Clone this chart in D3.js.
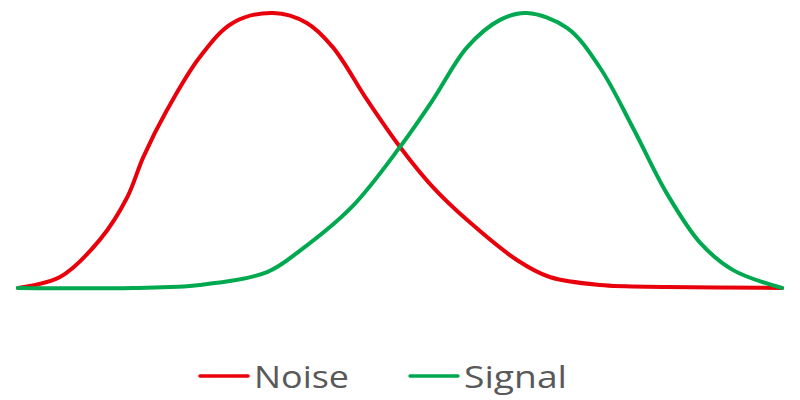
<!DOCTYPE html>
<html>
<head>
<meta charset="utf-8">
<script src="https://cdn.jsdelivr.net/npm/d3@7"></script>
<style>
  body { margin: 0; background: #fff; }
</style>
</head>
<body>
<div id="container"></div>
<script>
const width = 800;
const height = 400;

const seriesNames = ["Noise", "Signal"];
const seriesColors = ["#e8000b", "#00a84f"];

// x position (0-100) and relative height (0-100)
const noiseX = [0, 5.5, 10.7, 14.3, 16.4, 19.5, 23.8, 28.1, 33.4, 37.8, 41.2, 45.7, 50, 54.3, 58.8, 65.3, 69.6, 76.2, 84.9, 100];
const noiseY = [0, 4, 17.5, 33, 47.6, 64.7, 84, 96.4, 100, 96.4, 87.6, 68.4, 51.3, 36.7, 24.7, 10.2, 4, 1.1, 0.4, 0];

const signalX = [0, 15, 23.8, 32.6, 37, 43.7, 50, 54.3, 58.8, 63.1, 66.6, 71.9, 76.2, 80.5, 84.9, 89.3, 93.6, 100];
const signalY = [0, 0, 1.1, 5.8, 13.8, 29.5, 51.3, 68.4, 87.6, 97.5, 100, 94.5, 80, 58.2, 34.5, 16.4, 6.5, 0];

const series = [
  noiseX.map((x, i) => [x, noiseY[i]]),
  signalX.map((x, i) => [x, signalY[i]])
];

const x = d3.scaleLinear().domain([0, 100]).range([18, 782]);
const y = d3.scaleLinear().domain([0, 100]).range([288, 13]);

const svg = d3
  .select("#container")
  .append("svg")
  .attr("width", width)
  .attr("height", height);

const line = d3
  .line()
  .x((d) => x(d[0]))
  .y((d) => y(d[1]))
  .curve(d3.curveCatmullRom.alpha(0.5));

svg
  .selectAll("path.curve")
  .data(series)
  .enter()
  .append("path")
  .attr("class", "curve")
  .attr("d", line)
  .attr("fill", "none")
  .attr("stroke", (d, i) => seriesColors[i])
  .attr("stroke-width", 4)
  .attr("stroke-linecap", "round")
  .attr("stroke-linejoin", "round");

// legend
const legendX = [200, 410];
const textW = [95, 103];

const legend = svg
  .selectAll("g.legend")
  .data(seriesNames)
  .enter()
  .append("g")
  .attr("class", "legend")
  .attr("transform", (d, i) => `translate(${legendX[i]},376)`);

legend
  .append("line")
  .attr("x1", 0)
  .attr("x2", 48)
  .attr("y1", 0)
  .attr("y2", 0)
  .attr("stroke", (d, i) => seriesColors[i])
  .attr("stroke-width", 3.5)
  .attr("stroke-linecap", "round");

legend
  .append("text")
  .attr("x", 54)
  .attr("y", 12)
  .attr("font-family", "'Open Sans', sans-serif")
  .attr("font-size", 31)
  .attr("fill", "#595959")
  .attr("textLength", (d, i) => textW[i])
  .attr("lengthAdjust", "spacingAndGlyphs")
  .text((d) => d);
</script>
</body>
</html>
